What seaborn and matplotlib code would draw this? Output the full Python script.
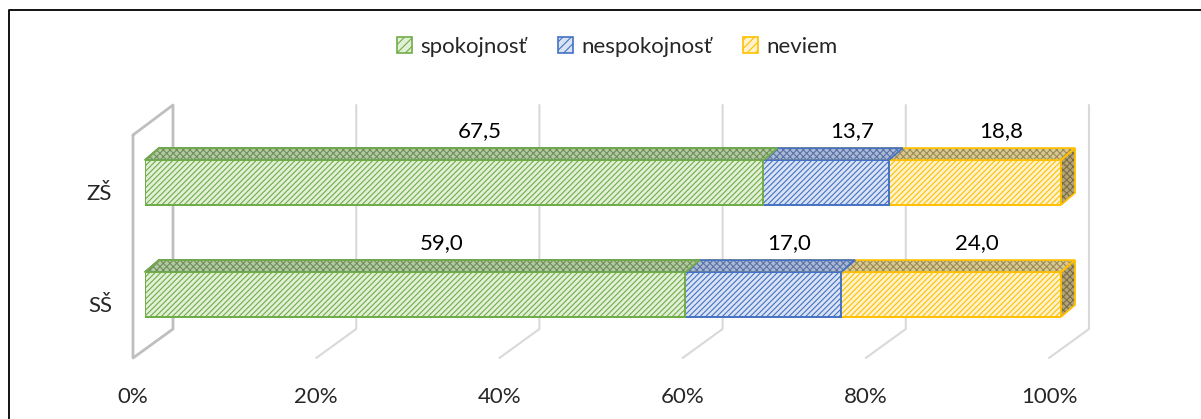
import numpy as np
import pandas as pd
import seaborn as sns
import matplotlib.pyplot as plt
from matplotlib.patches import Polygon, Patch
from matplotlib.lines import Line2D
from matplotlib.transforms import IdentityTransform

# data (percent)
skoly = ['ZŠ', 'SŠ']
spokojnost = [67.5, 59.0]
nespokojnost = [13.7, 17.0]
neviem = [18.8, 24.0]
series_names = ['spokojnosť', 'nespokojnosť', 'neviem']
ticks = [0, 20, 40, 60, 80, 100]

sns.set_theme(style='white')
plt.rcParams['font.family'] = ['Lato', 'DejaVu Sans']
plt.rcParams['hatch.linewidth'] = 0.8

W, H = 1201, 419
fig = plt.figure(figsize=(W / 100, H / 100), dpi=100)

# colours: front fill, line/hatch, top face fill + texture
fill = ['#e3f0d8', '#dae3f3', '#fff2cc']
line = ['#70ad47', '#4472c4', '#ffc000']
top = ['#b3c9a2', '#aab8d6', '#d8c993']
top_tex = ['#6f8f5a', '#5a72a6', '#9c8a55']
side, side_tex = '#b3a577', '#7a6d45'
fs = 16

def px(x, y):
    # pixel (from top-left) -> figure fraction
    return x / W, 1 - y / H

# bar axes: 0% at x=145, 100% at x=1061, categories 112 px apart
bar_left, bar_right = 145, 1061
y_top, y_bot = 126.5, 350.5
ax = fig.add_axes([bar_left / W, 1 - y_bot / H, (bar_right - bar_left) / W, (y_bot - y_top) / H])
ax.patch.set_visible(False)

df = pd.DataFrame({'skola': skoly,
                   'spokojnost': spokojnost,
                   'nespokojnost': nespokojnost,
                   'neviem': neviem})
df['c1'] = df['spokojnost']
df['c2'] = df['c1'] + df['nespokojnost']
df['c3'] = df['c2'] + df['neviem']

# stacked bars: draw cumulative totals back to front
bar_h = 0.4
for col, i in [('c3', 2), ('c2', 1), ('c1', 0)]:
    sns.barplot(data=df, y='skola', x=col, orient='h', ax=ax, color=fill[i],
                saturation=1, width=bar_h, errorbar=None, edgecolor=line[i],
                hatch='//////', linewidth=1.4, zorder=3)

ax.set_xlim(0, 100)
ax.set_ylim(1.5, -0.5)
for s in ax.spines.values():
    s.set_visible(False)
ax.set_xticks([])
ax.tick_params(left=False, labelleft=False)
ax.set_xlabel('')
ax.set_ylabel('')

# 3D depth offset of the bars
px_x = 100 / (bar_right - bar_left)
px_y = 1 / 112
ddx, ddy = 14 * px_x, 12 * px_y

def face(pts, fc, tex, ec):
    ax.add_patch(Polygon(pts, closed=True, facecolor=fc, edgecolor=tex, hatch='xxxxx',
                         linewidth=0, zorder=4, clip_on=False))
    ax.add_patch(Polygon(pts, closed=True, facecolor='none', edgecolor=ec,
                         linewidth=1.3, zorder=4.5, clip_on=False))

n = len(skoly)
patches = list(ax.patches)
for k, p in enumerate(patches):
    i = 2 - k // n
    x0, w = p.get_x(), p.get_width()
    yt = p.get_y()
    yb = yt + p.get_height()
    x1 = x0 + w
    face([(x0, yt), (x1, yt), (x1 + ddx, yt - ddy), (x0 + ddx, yt - ddy)],
         top[i], top_tex[i], line[i])
    if i == 2:
        face([(x1, yb), (x1, yt), (x1 + ddx, yt - ddy), (x1 + ddx, yb - ddy)],
             side, side_tex, line[i])

# data labels
vals = [spokojnost, nespokojnost, neviem]
for j in range(n):
    left = 0
    for i in range(3):
        v = vals[i][j]
        ax.annotate(f'{v:.1f}'.replace('.', ','), xy=(left + v / 2, j - bar_h / 2),
                    xytext=(26, 29), textcoords='offset pixels', ha='center',
                    va='center', fontsize=fs, color='#000000', zorder=6)
        left += v

# category labels
for j, name in enumerate(skoly):
    ax.annotate(name, xy=(0, j), xycoords=ax.get_yaxis_transform(), xytext=(-33, -11),
                textcoords='offset pixels', ha='right', va='center', fontsize=fs)

# back wall / floor grid (pixels)
wall_top, wall_bot, floor_front = 105, 329, 358
scale = (bar_right - bar_left) / 100
for t in ticks[1:]:
    xb = bar_left + 28 + t * scale
    xf = bar_left - 12 + t * scale
    fig.add_artist(Line2D([xb, xb, xf], [H - wall_top, H - wall_bot, H - floor_front],
                          transform=IdentityTransform(), color='#d9d9d9', lw=1.5, zorder=-1))
xb, xf = bar_left + 28, bar_left - 12
fig.add_artist(Line2D([xf, xf, xb, xb, xf],
                      [H - 135, H - floor_front, H - wall_bot, H - wall_top, H - 135],
                      transform=IdentityTransform(), color='#bfbfbf', lw=2, zorder=-1))

# x tick labels along the front of the floor
axt = fig.add_axes([(bar_left - 12) / W, 1 - floor_front / H, (bar_right - bar_left) / W, 0.001])
axt.patch.set_visible(False)
axt.set_xlim(0, 100)
axt.set_xticks(ticks)
axt.set_xticklabels([f'{t}%' for t in ticks], fontsize=fs)
axt.set_yticks([])
axt.tick_params(axis='x', length=0, pad=21)
for s in axt.spines.values():
    s.set_visible(False)

# legend
handles = [Patch(facecolor=fill[i], edgecolor=line[i], hatch='////', linewidth=1.2)
           for i in range(3)]
fig.legend(handles, series_names, loc='center', bbox_to_anchor=px(617, 47), ncol=3,
           frameon=False, fontsize=fs, handlelength=0.7, handleheight=0.7,
           handletextpad=0.35, columnspacing=1.4)

# chart border
fig.add_artist(Line2D([9, 9, W], [0, H - 10, H - 10], transform=IdentityTransform(),
                      color='black', lw=1.3))

fig.savefig('out.png', dpi=100)
